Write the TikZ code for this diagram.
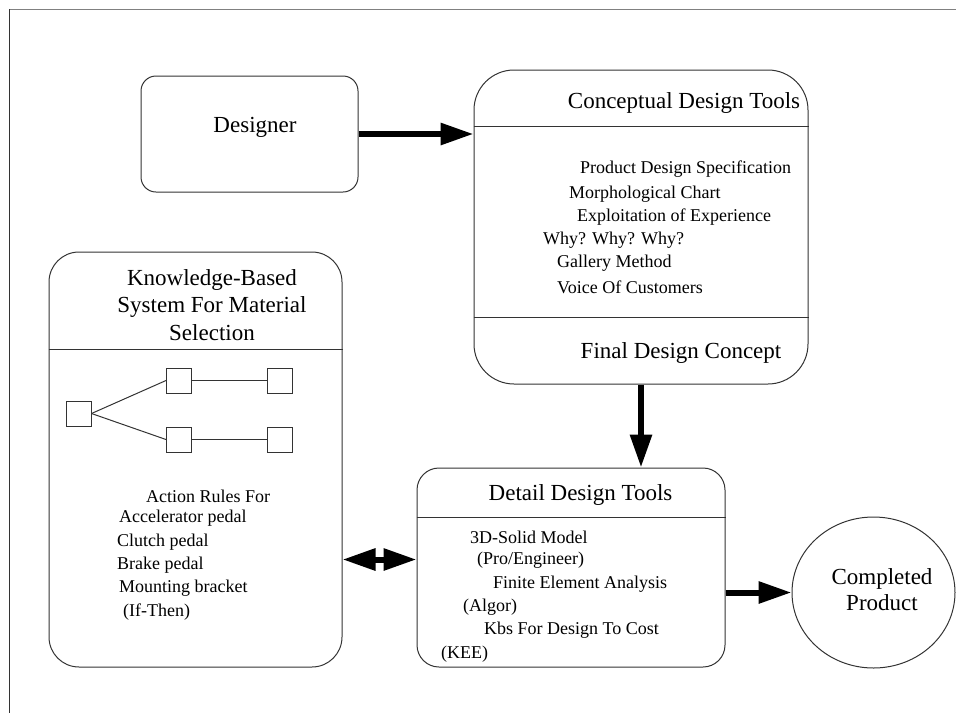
\documentclass[tikz,border=0pt]{standalone}
\usepackage{fontspec}
\setmainfont{Liberation Serif}
\usetikzlibrary{arrows.meta,shapes.geometric}
\tikzset{
  box/.style={draw=black!80, line width=1pt, inner sep=0pt},
  sq/.style={draw=black!80, line width=1pt, minimum size=25pt, inner sep=0pt},
  thin/.style={draw=black!80, line width=1pt},
  ttl/.style={font=\fontsize{23}{27.5}\selectfont, inner sep=0pt, align=center},
  bodytxt/.style={font=\fontsize{18}{22}\selectfont, inner sep=0pt, anchor=west},
  bigarrow/.style={line width=6pt, -{Triangle[length=33pt,width=21pt]}},
  dblarrow/.style={line width=6pt, {Triangle[length=33pt,width=21pt]}-{Triangle[length=33pt,width=21pt]}},
}
\begin{document}
\begin{tikzpicture}[x=1pt,y=-1pt]
\useasboundingbox (0,0) rectangle (956,713);
% frame
\draw[black!50, line width=1pt] (9,9) -- (956,9);
\draw[black!80, line width=1pt] (9,9) -- (9,713);

% boxes
\node[box, rounded corners=15pt, minimum width=217pt, minimum height=116pt] (designer) at (249.5,134) {};
\node[box, rounded corners=40pt, minimum width=334pt, minimum height=314pt] (concept) at (641,227) {};
\node[box, rounded corners=30pt, minimum width=293pt, minimum height=415pt] (knowledge) at (195.5,459.5) {};
\node[box, rounded corners=22pt, minimum width=308pt, minimum height=199pt] (detail) at (571,567.5) {};
\node[box, ellipse, minimum width=163pt, minimum height=151pt] (completed) at (873.5,592.5) {};

% dividers
\draw[thin] (concept.west |- 0,126) -- (concept.east |- 0,126);
\draw[thin] (concept.west |- 0,317) -- (concept.east |- 0,317);
\draw[thin] (knowledge.west |- 0,349) -- (knowledge.east |- 0,349);
\draw[thin] (detail.west |- 0,517) -- (detail.east |- 0,517);

% texts
\node[ttl] (tdesigner) at (255,127) {Designer};
\node[ttl] (tconcept) at (684,103) {Conceptual Design Tools};
\node[ttl] (tfinal) at (681,353) {Final Design Concept};
\node[ttl] (tknow) at (212,305) {Knowledge-Based\\System For Material\\Selection};
\node[ttl] (tdetail) at (580.5,495) {Detail Design Tools};
\node[ttl, font=\fontsize{23}{26}\selectfont] (tcompleted) at (882,590) {Completed\\Product};

\node[bodytxt] (c1) at (580,169) {Product Design Specification};
\node[bodytxt] (c2) at (569,194) {Morphological Chart};
\node[bodytxt] (c3) at (577,217) {Exploitation of Experience};
\node[bodytxt] (c4) at (543,240) {Why? Why? Why?};
\node[bodytxt] (c5) at (557,263) {Gallery Method};
\node[bodytxt] (c6) at (557,287) {Voice Of Customers};

\node[bodytxt] (k1) at (146,496) {Action Rules For};
\node[bodytxt] (k2) at (119,518) {Accelerator pedal};
\node[bodytxt] (k3) at (117,542) {Clutch pedal};
\node[bodytxt] (k4) at (117,565) {Brake pedal};
\node[bodytxt] (k5) at (119,588) {Mounting bracket};
\node[bodytxt] (k6) at (123,612) {(If-Then)};

\node[bodytxt] (d1) at (470,537) {3D-Solid Model};
\node[bodytxt] (d2) at (477,560) {(Pro/Engineer)};
\node[bodytxt] (d3) at (493,584) {Finite Element Analysis};
\node[bodytxt] (d4) at (463,607) {(Algor)};
\node[bodytxt] (d5) at (484,630) {Kbs For Design To Cost};
\node[bodytxt] (d6) at (441,654) {(KEE)};

% small tree
\node[sq] (s1) at (78.5,413.5) {};
\node[sq] (s2) at (179,380.5) {};
\node[sq] (s3) at (279.5,380.5) {};
\node[sq] (s4) at (179,439.5) {};
\node[sq] (s5) at (279.5,439.5) {};
\draw[thin] (s1.east) -- (s2.west);
\draw[thin] (s1.east) -- (s4.west);
\draw[thin] (s2.east) -- (s3.west);
\draw[thin] (s4.east) -- (s5.west);

% arrows
\draw[bigarrow] (designer.east) -- (designer.east -| concept.west);
\draw[bigarrow] (concept.south) -- (concept.south |- detail.north);
\draw[bigarrow] (detail.east |- completed.west) -- (completed.west);
\draw[dblarrow] ([yshift=8pt]detail.west -| knowledge.east) -- ([yshift=8pt]detail.west);
\end{tikzpicture}
\end{document}
